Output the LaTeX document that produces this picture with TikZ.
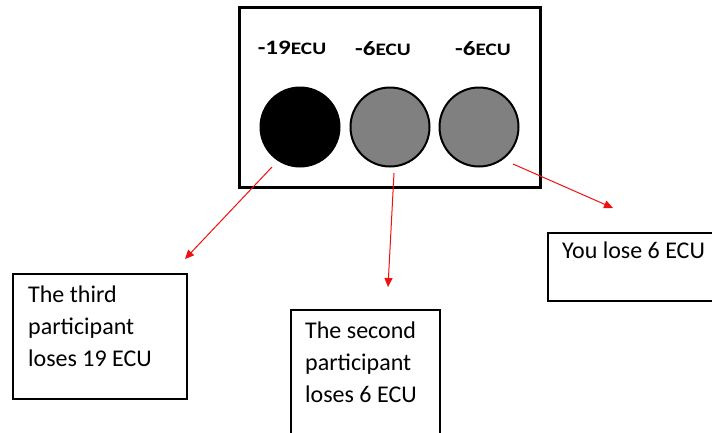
\documentclass[tikz,border=0pt]{standalone}
\usepackage{fontspec}
\setmainfont{Carlito}
\usetikzlibrary{arrows.meta}
\definecolor{discgray}{HTML}{808080}
\definecolor{arrred}{HTML}{F01010}
\begin{document}
\begin{tikzpicture}[x=1pt,y=-1pt,
  disc/.style={circle,draw=black,line width=2pt,minimum size=79pt,inner sep=0pt,outer sep=0pt},
  panel/.style={draw=black,line width=3pt,rectangle,anchor=north west,inner sep=0pt,outer sep=0pt,minimum width=301pt,minimum height=180pt},
  tbox/.style={draw=black,line width=1.3pt,rectangle,anchor=north west,inner sep=0pt,outer sep=0pt},
  btext/.style={anchor=north west,inner sep=0pt,align=left,font=\fontsize{24}{32}\selectfont},
  lbl/.style={anchor=base,inner sep=0pt},
  arr/.style={draw=arrred,line width=1pt,-{Triangle[length=9pt,width=8pt]}}]
\useasboundingbox (0,0) rectangle (712,432);
\clip (0,0) rectangle (712,432);
\fill[white] (0,0) rectangle (712,432);
% main panel
\node[panel] (panel) at (239,7) {};
% discs
\node[disc,fill=black] (c1) at (300,127) {};
\node[disc,fill=discgray] (c2) at (390,127) {};
\node[disc,fill=discgray] (c3) at (479,127) {};
% labels
\node[lbl] (l1) at (292,54) {\scalebox{1.22}[1]{\bfseries\fontsize{20.5}{20.5}\selectfont -19\fontsize{17.5}{17.5}\selectfont ECU}};
\node[lbl] (l2) at (383,55) {\scalebox{1.22}[1]{\bfseries\fontsize{20.5}{20.5}\selectfont -6\fontsize{17.5}{17.5}\selectfont ECU}};
\node[lbl] (l3) at (483,55) {\scalebox{1.22}[1]{\bfseries\fontsize{20.5}{20.5}\selectfont -6\fontsize{17.5}{17.5}\selectfont ECU}};
% text boxes
\node[tbox,minimum width=174pt,minimum height=125pt] (b1) at (13,274) {};
\node[btext] (t1) at (28,285.5) {The third\\participant\\loses 19 ECU};
\node[tbox,minimum width=149pt,minimum height=140pt] (b2) at (291,310) {};
\node[btext] (t2) at (305,322) {The second\\participant\\loses 6 ECU};
\node[tbox,minimum width=180pt,minimum height=68pt] (b3) at (548,233) {};
\node[btext] (t3) at (562,242) {You lose 6 ECU};
% arrow ends
\coordinate (s1) at (272,167);
\coordinate (e1) at (185,259);
\coordinate (s2) at (394,173);
\coordinate (e2) at (388,287);
\coordinate (s3) at (513,164);
\coordinate (e3) at (613,208);
\draw[arr] (s1) -- (e1);
\draw[arr] (s2) -- (e2);
\draw[arr] (s3) -- (e3);
\end{tikzpicture}
\end{document}
